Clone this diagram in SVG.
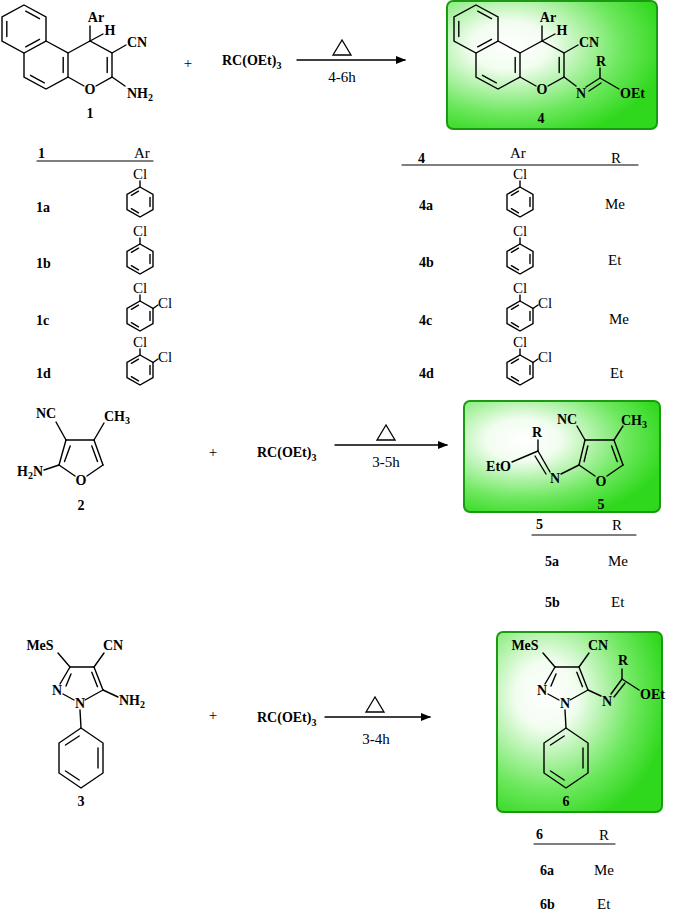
<svg xmlns="http://www.w3.org/2000/svg" width="685" height="915" viewBox="0 0 685 915">
<style>
line,polyline,polygon,path{stroke:#000;stroke-width:1.4;fill:none;stroke-linecap:round}
.b{font-family:"Liberation Serif",serif;font-weight:bold;font-size:14px;fill:#000}
.r{font-family:"Liberation Serif",serif;font-size:15px;fill:#000}
.m{text-anchor:middle}.e{text-anchor:end}
.box{stroke:#1a9a10;stroke-width:2;fill:url(#gg)}
.tri{stroke-width:1.3;fill:none}
</style>
<defs>
<radialGradient id="gg" cx="0.3" cy="0.35" r="0.75">
<stop offset="0" stop-color="#ffffff"/><stop offset="0.25" stop-color="#f2fdf0"/><stop offset="0.7" stop-color="#6fe860"/><stop offset="1" stop-color="#2fd81c"/>
</radialGradient>
<marker id="ah" markerWidth="10" markerHeight="8" refX="9" refY="4" orient="auto" markerUnits="userSpaceOnUse">
<path d="M0,0 L10,4 L0,8 Z" style="fill:#000;stroke:none"/>
</marker>
<g id="ph">
<polygon points="0,-15 13,-7.5 13,7.5 0,15 -13,7.5 -13,-7.5"/>
<line x1="10" y1="-4.5" x2="10" y2="4.5"/><line x1="-1.5" y1="10.8" x2="-8.6" y2="6.7"/><line x1="-8.6" y1="-6.7" x2="-1.5" y2="-10.8"/>
</g>
<g id="ph1"><use href="#ph"/><line x1="0" y1="-15" x2="0" y2="-21"/><text class="r m" x="0" y="-23">Cl</text></g>
<g id="ph2"><use href="#ph1"/><line x1="13" y1="-7.5" x2="18" y2="-11"/><text class="r" x="18" y="-8">Cl</text></g>
<g id="naph">
<polygon points="24,5 46,17 46,41 24,53 2,41 2,17"/>
<polyline points="46,41 68,53 68,77 46,89 24,77 24,53"/>
<polyline points="68,53 90,41 112,53 112,77 96,86"/>
<line x1="68" y1="77" x2="84" y2="86"/>
<line x1="25.7" y1="11.2" x2="39.5" y2="18.7"/><line x1="6.8" y1="36.5" x2="6.8" y2="21.5"/><line x1="39.5" y1="39.3" x2="25.7" y2="46.8"/>
<line x1="63.2" y1="57.5" x2="63.2" y2="72.5"/><line x1="44.3" y1="82.8" x2="30.5" y2="75.3"/><line x1="107.2" y1="57.5" x2="107.2" y2="72.5"/>
<text class="b m" x="90" y="94">O</text>
<line x1="90" y1="41" x2="90" y2="26"/><text class="b m" x="96" y="22">Ar</text>
<line x1="90" y1="41" x2="103" y2="34"/><text class="b m" x="110" y="35">H</text>
<line x1="112" y1="53" x2="126" y2="45"/><text class="b" x="127" y="47">CN</text>
</g>
<g id="pyr">
<line x1="70" y1="667" x2="94" y2="667"/><line x1="94" y1="667" x2="103" y2="690"/><line x1="91.8" y1="672.3" x2="97.5" y2="686.7"/>
<line x1="70" y1="667" x2="60" y2="684"/><line x1="66" y1="686" x2="71" y2="674"/>
<line x1="63" y1="694" x2="74" y2="700"/><line x1="85" y1="700" x2="103" y2="690"/>
<text class="b m" x="57" y="695">N</text><text class="b m" x="80" y="708">N</text>
<line x1="70" y1="667" x2="58" y2="653"/><text class="b m" x="40" y="650">MeS</text>
<line x1="94" y1="667" x2="104" y2="653"/><text class="b" x="103" y="650">CN</text>
<line x1="80" y1="710" x2="81" y2="728"/>
<polygon points="81,728 103,743 103,773 81,788 59,773 59,743"/>
<line x1="98" y1="748" x2="98" y2="768"/><line x1="79.2" y1="780" x2="65.5" y2="771"/><line x1="65.5" y1="745" x2="79.2" y2="736"/>
</g>
</defs>

<g id="connectors">
<line x1="297" y1="60" x2="405" y2="60" marker-end="url(#ah)"/>
<line x1="335" y1="445" x2="447" y2="445" marker-end="url(#ah)"/>
<line x1="325" y1="717" x2="430" y2="717" marker-end="url(#ah)"/>
</g>

<g id="cond1">
<polygon class="tri" points="342,40 333,55 351,55"/><text class="r m" x="342" y="82">4-6h</text>
<text class="b" x="222" y="65">RC(OEt)<tspan font-size="10" dy="4">3</tspan></text>
<text class="r m" x="188" y="68">+</text>
</g>
<g id="compound1">
<use href="#naph"/>
<line x1="112" y1="77" x2="125" y2="86"/><text class="b" x="127" y="98">NH<tspan font-size="10" dy="3">2</tspan></text>
<text class="b m" x="90" y="118">1</text>
</g>
<g id="compound4">
<rect class="box" x="447" y="1" width="210" height="128" rx="6"/>
<use href="#naph" transform="translate(452,0)"/>
<line x1="564" y1="77" x2="576" y2="86"/><text class="b m" x="581" y="98">N</text>
<line x1="586" y1="87" x2="600" y2="78"/><line x1="589" y1="91" x2="601" y2="83"/>
<line x1="600" y1="78" x2="600" y2="68"/><text class="b m" x="601" y="66">R</text>
<line x1="600" y1="78" x2="619" y2="89"/><text class="b" x="620" y="98">OEt</text>
<text class="b m" x="541" y="123">4</text>
</g>

<g id="table1">
<text class="b" x="38" y="158">1</text><text class="r" x="134" y="158">Ar</text>
<line x1="37" y1="161" x2="153" y2="161" style="stroke-width:1.2"/>
<text class="b" x="36" y="212">1a</text><use href="#ph1" x="140" y="202"/>
<text class="b" x="36" y="268">1b</text><use href="#ph1" x="140" y="259"/>
<text class="b" x="36" y="325">1c</text><use href="#ph2" x="140" y="316"/>
<text class="b" x="36" y="378">1d</text><use href="#ph2" x="140" y="370"/>
</g>
<g id="table4">
<text class="b" x="418" y="163">4</text><text class="r" x="510" y="158">Ar</text><text class="r" x="611" y="163">R</text>
<line x1="402" y1="165" x2="638" y2="165" style="stroke-width:1.2"/>
<text class="b" x="419" y="210">4a</text><use href="#ph1" x="520" y="202"/><text class="r" x="605" y="209">Me</text>
<text class="b" x="419" y="267">4b</text><use href="#ph1" x="520" y="259"/><text class="r" x="608" y="265">Et</text>
<text class="b" x="419" y="325">4c</text><use href="#ph2" x="520" y="316"/><text class="r" x="609" y="324">Me</text>
<text class="b" x="419" y="378">4d</text><use href="#ph2" x="520" y="370"/><text class="r" x="610" y="378">Et</text>
</g>

<g id="compound2">
<line x1="66" y1="440" x2="94" y2="440"/><line x1="94" y1="440" x2="103" y2="465"/><line x1="91.8" y1="446" x2="97.5" y2="461.5"/>
<line x1="103" y1="465" x2="87" y2="476"/><line x1="75" y1="476" x2="59" y2="465"/>
<line x1="59" y1="465" x2="66" y2="440"/><line x1="64.5" y1="461.5" x2="70.2" y2="446"/>
<text class="b m" x="81" y="485">O</text>
<line x1="66" y1="440" x2="56" y2="422"/><text class="b m" x="46" y="418">NC</text>
<line x1="94" y1="440" x2="104" y2="423"/><text class="b" x="104" y="421">CH<tspan font-size="10" dy="3">3</tspan></text>
<line x1="59" y1="465" x2="44" y2="470"/><text class="b e" x="43" y="476">H<tspan font-size="10" dy="3">2</tspan><tspan dy="-3">N</tspan></text>
<text class="b m" x="81" y="510">2</text>
</g>
<g id="cond2">
<text class="r m" x="213" y="457">+</text>
<text class="b" x="257" y="457">RC(OEt)<tspan font-size="10" dy="4">3</tspan></text>
<polygon class="tri" points="386,425 377,440 395,440"/><text class="r m" x="386" y="467">3-5h</text>
</g>
<g id="compound5">
<rect class="box" x="464" y="401" width="196" height="111" rx="6"/>
<line x1="585" y1="440" x2="614" y2="440"/><line x1="614" y1="440" x2="623" y2="465"/><line x1="611.6" y1="446" x2="617.2" y2="461.5"/>
<line x1="623" y1="465" x2="607" y2="476"/><line x1="595" y1="476" x2="579" y2="465"/>
<line x1="579" y1="465" x2="585" y2="440"/><line x1="584.1" y1="461.5" x2="587.8" y2="446"/>
<text class="b m" x="601" y="486">O</text>
<line x1="585" y1="440" x2="577" y2="426"/><text class="b m" x="567" y="424">NC</text>
<line x1="614" y1="440" x2="623" y2="426"/><text class="b" x="621" y="425">CH<tspan font-size="10" dy="3">3</tspan></text>
<line x1="579" y1="465" x2="561" y2="474"/><text class="b m" x="555" y="483">N</text>
<line x1="550" y1="472" x2="538" y2="451"/><line x1="546" y1="474" x2="535" y2="456"/>
<line x1="538" y1="451" x2="538" y2="440"/><text class="b m" x="537" y="437">R</text>
<line x1="538" y1="451" x2="512" y2="462"/><text class="b e" x="511" y="471">EtO</text>
<text class="b m" x="601" y="509">5</text>
</g>
<g id="table5">
<text class="b" x="536" y="529">5</text><text class="r" x="612" y="530">R</text>
<line x1="532" y1="535" x2="636" y2="535" style="stroke-width:1.2"/>
<text class="b" x="545" y="566">5a</text><text class="r" x="608" y="566">Me</text>
<text class="b" x="545" y="607">5b</text><text class="r" x="611" y="607">Et</text>
</g>

<g id="compound3">
<use href="#pyr"/>
<line x1="103" y1="690" x2="118" y2="697"/><text class="b" x="119" y="705">NH<tspan font-size="10" dy="3">2</tspan></text>
<text class="b m" x="81" y="806">3</text>
</g>
<g id="cond3">
<text class="r m" x="213" y="720">+</text>
<text class="b" x="257" y="722">RC(OEt)<tspan font-size="10" dy="4">3</tspan></text>
<polygon class="tri" points="375,697 366,712 384,712"/><text class="r m" x="376" y="744">3-4h</text>
</g>
<g id="compound6">
<rect class="box" x="497" y="632" width="165" height="180" rx="6"/>
<use href="#pyr" transform="translate(485,0)"/>
<line x1="588" y1="690" x2="601" y2="696"/><text class="b m" x="607" y="706">N</text>
<line x1="611" y1="694" x2="622" y2="679"/><line x1="614" y1="697" x2="625" y2="683"/>
<line x1="622" y1="679" x2="622" y2="669"/><text class="b m" x="623" y="665">R</text>
<line x1="622" y1="679" x2="639" y2="690"/><text class="b" x="640" y="699">OEt</text>
<text class="b m" x="566" y="806">6</text>
</g>
<g id="table6">
<text class="b" x="536" y="839">6</text><text class="r" x="599" y="840">R</text>
<line x1="534" y1="844" x2="615" y2="844" style="stroke-width:1.2"/>
<text class="b" x="540" y="875">6a</text><text class="r" x="594" y="875">Me</text>
<text class="b" x="540" y="909">6b</text><text class="r" x="597" y="909">Et</text>
</g>
</svg>
